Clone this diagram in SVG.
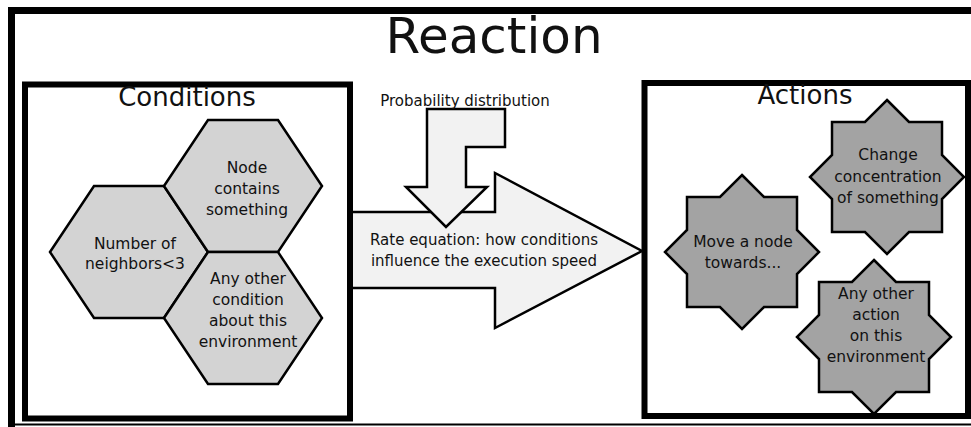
<svg xmlns="http://www.w3.org/2000/svg" width="971" height="427" viewBox="0 0 971 427">
  <defs>
    <style>
      text { font-family: "DejaVu Sans", "Liberation Sans", sans-serif; fill: #111; text-anchor: middle; }
      .title { font-size: 50px; }
      .heading { font-size: 26px; }
      .label { font-size: 15.5px; }
      .small { font-size: 15px; }
      .frame { fill: none; stroke: #000; stroke-width: 7; }
      .box { fill: none; stroke: #000; stroke-width: 6; }
      .hex { fill: #d3d3d3; stroke: #000; stroke-width: 2.5; stroke-linejoin: miter; }
      .star { fill: #a3a3a3; stroke: #000; stroke-width: 2.5; stroke-linejoin: miter; }
      .flow { fill: #f2f2f2; stroke: #000; stroke-width: 2.5; stroke-linejoin: miter; }
    </style>
    <!-- hexagon: half width 79, top/bottom edge half width 35, half height 66 -->
    <polygon id="hexShape" points="-79,0 -35,-66 35,-66 79,0 35,66 -35,66"/>
    <!-- eight-pointed star: square (half 55) merged with diamond (radius 77) -->
    <polygon id="starShape" points="0,-77 22,-55 55,-55 55,-22 77,0 55,22 55,55 22,55 0,77 -22,55 -55,55 -55,22 -77,0 -55,-22 -55,-55 -22,-55"/>
  </defs>

  <rect width="971" height="427" fill="#fff"/>

  <!-- outer frame of the reaction -->
  <g id="reaction-frame">
    <path class="frame" d="M11.5 427 V10.5 H971"/>
    <line x1="8" y1="424.5" x2="971" y2="424.5" stroke="#000" stroke-width="2"/>
    <text class="title" x="494" y="53">Reaction</text>
  </g>

  <!-- connectors: rate arrow and probability arrow -->
  <g id="connectors">
    <polygon id="rate-arrow" class="flow" points="350,212 495,212 495,173 642,251 495,328 495,288 350,288"/>
    <polygon id="probability-arrow" class="flow" points="427,109 505,109 505,147 466,147 466,187 487,187 446,227 406,187 427,187"/>
    <text class="small" x="465" y="106">Probability distribution</text>
    <text class="small" x="484" y="245">Rate equation: how conditions</text>
    <text class="small" x="484" y="266">influence the execution speed</text>
  </g>

  <!-- conditions container -->
  <g id="conditions">
    <rect class="box" x="25" y="84.5" width="325" height="334" fill="none"/>
    <text class="heading" x="187" y="106">Conditions</text>
  </g>

  <g id="cond-neighbors">
    <use href="#hexShape" class="hex" x="129" y="252"/>
    <text class="label" x="135" y="249">Number of</text>
    <text class="label" x="135" y="269">neighbors&lt;3</text>
  </g>

  <g id="cond-contains">
    <use href="#hexShape" class="hex" x="243" y="186"/>
    <text class="label" x="247" y="173">Node</text>
    <text class="label" x="247" y="194">contains</text>
    <text class="label" x="247" y="215">something</text>
  </g>

  <g id="cond-other">
    <use href="#hexShape" class="hex" x="243" y="318"/>
    <text class="label" x="248" y="284">Any other</text>
    <text class="label" x="248" y="305">condition</text>
    <text class="label" x="248" y="326">about this</text>
    <text class="label" x="248" y="347">environment</text>
  </g>

  <!-- actions container -->
  <g id="actions">
    <rect class="box" x="644.5" y="83" width="323.5" height="333" fill="none"/>
    <text class="heading" x="805" y="104">Actions</text>
  </g>

  <g id="act-move">
    <use href="#starShape" class="star" x="742" y="252"/>
    <text class="label" x="743" y="247">Move a node</text>
    <text class="label" x="743" y="268">towards...</text>
  </g>

  <g id="act-concentration">
    <use href="#starShape" class="star" x="887" y="177"/>
    <text class="label" x="888" y="160">Change</text>
    <text class="label" x="888" y="182">concentration</text>
    <text class="label" x="888" y="203">of something</text>
  </g>

  <g id="act-other">
    <use href="#starShape" class="star" x="874" y="337"/>
    <text class="label" x="876" y="299">Any other</text>
    <text class="label" x="876" y="320">action</text>
    <text class="label" x="876" y="341">on this</text>
    <text class="label" x="876" y="362">environment</text>
  </g>
</svg>
